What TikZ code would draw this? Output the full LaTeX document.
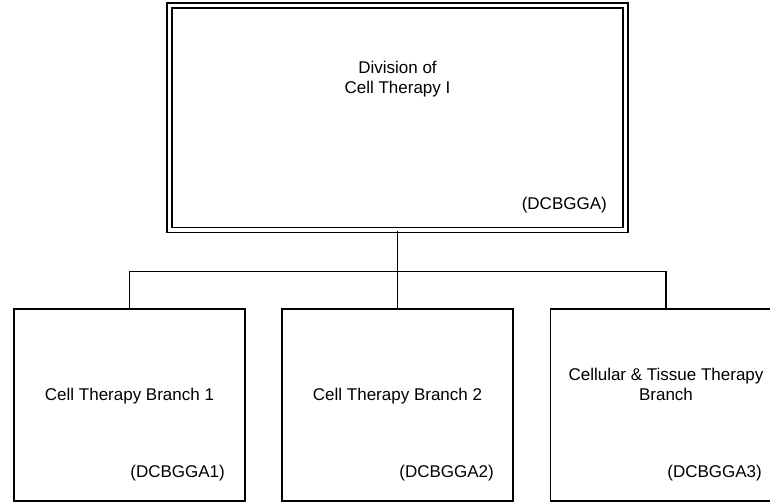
\documentclass[tikz,border=0pt]{standalone}
\usepackage{fontspec}
\setmainfont{Liberation Sans}
\begin{document}
\begin{tikzpicture}[x=1pt,y=-1pt,
  every node/.style={font=\fontsize{17}{20}\selectfont, text=black},
  topbox/.style={draw, line width=1.7pt, double, double distance=3.3pt, minimum width=456pt, minimum height=224.5pt, inner sep=0},
  branchbox/.style={draw, line width=1.8pt, minimum width=231pt, minimum height=192pt, inner sep=0},
  conn/.style={line width=1.8pt},
  txt/.style={inner sep=0, align=center},
  code/.style={inner sep=0, anchor=base east}]
\useasboundingbox (0,0) rectangle (770,501);
\clip (0,0) rectangle (770,501);
\node[topbox] (div) at (397.5,117.75) {};
\node[branchbox] (b1) at (129.5,405) {};
\node[branchbox] (b2) at (397.5,405) {};
\node[branchbox] (b3) at (666,405) {};
\coordinate (bus) at (397.5,271.5);
\draw[conn] (div.south) -- (b2.north);
\draw[conn] (b1.north) |- (bus) -| (b3.north);
\node[txt] (divt) at (397.5,79) {Division of\\Cell Therapy I};
\node[code] (divc) at (607,209) {(DCBGGA)};
\node[txt, anchor=base] (t1) at (129.5,400) {Cell Therapy Branch 1};
\node[code] (c1) at (225,477) {(DCBGGA1)};
\node[txt, anchor=base] (t2) at (397.5,400) {Cell Therapy Branch 2};
\node[code] (c2) at (494,477) {(DCBGGA2)};
\node[txt] (t3) at (666,384.5) {Cellular \& Tissue Therapy\\Branch};
\node[code] (c3) at (762,477) {(DCBGGA3)};
\end{tikzpicture}
\end{document}
